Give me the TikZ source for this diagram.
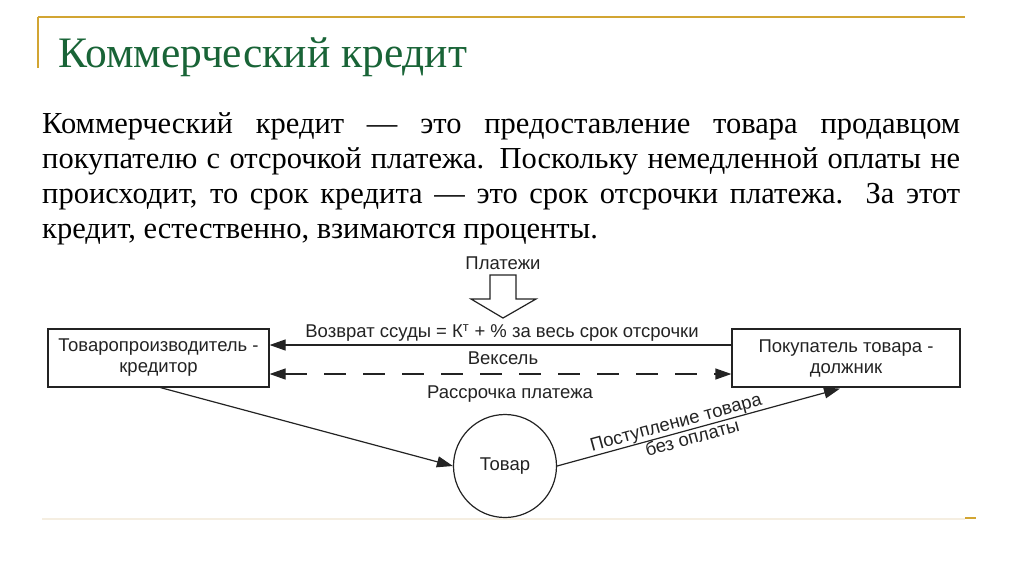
\documentclass[tikz,border=0pt]{standalone}
\usepackage{fontspec}
\setmainfont{Liberation Serif}
\newfontfamily\diagfont{Liberation Sans}
\usetikzlibrary{arrows.meta,shapes.geometric}
\definecolor{gold}{RGB}{210,165,50}
\definecolor{titlegreen}{RGB}{25,100,55}
\definecolor{faint}{RGB}{245,238,225}
\definecolor{ink}{RGB}{35,35,35}
\tikzset{
  box/.style={draw=ink, line width=1.2pt, minimum height=58pt, inner sep=2pt, align=center, font=\diagfont\fontsize{18.5}{21}\selectfont, text=ink},
  lbl/.style={font=\diagfont\fontsize{18.5}{21}\selectfont, text=ink, inner sep=1pt},
  conn/.style={draw=ink, line width=1.2pt},
  tip/.style={-{Triangle[length=16pt,width=11pt]}},
}
\begin{document}
\begin{tikzpicture}[x=1pt,y=-1pt]
\useasboundingbox (0,0) rectangle (1024,574);
% frame decoration
\draw[gold, line width=2pt] (38,17) -- (965,17);
\draw[gold, line width=1.2pt] (38,17) -- (38,68);
\draw[faint, line width=1.5pt] (42,519) -- (965,519);
\draw[gold, line width=2pt] (965,518) -- (976,518);
% title
\node[anchor=base west, inner sep=0pt, text=titlegreen, font=\fontsize{43.5}{50}\selectfont] (title) at (58,67) {Коммерческий кредит};
% body
\node[anchor=base west, inner sep=0pt, text width=918pt, align=justify, font=\fontsize{30.5}{35}\selectfont] (body) at (42,133)
{Коммерческий кредит — это предоставление товара продавцом\linebreak
покупателю с отсрочкой платежа. Поскольку немедленной оплаты не\linebreak
происходит, то срок кредита — это срок отсрочки платежа. За этот\linebreak
кредит, естественно, взимаются проценты.};
% diagram
\node[box, minimum width=221pt] (L) at (158.5,358) {Товаропроизводитель -\\кредитор};
\node[box, minimum width=228pt] (R) at (846,358) {Покупатель товара -\\должник};
\node[circle, draw=ink, line width=1.2pt, minimum size=103pt, inner sep=0pt, font=\diagfont\fontsize{18.5}{21}\selectfont, text=ink] (T) at (505,466) {Товар};
\node[lbl] (pl) at (503,263) {Платежи};
\draw[draw=ink, line width=1.2pt, fill=white] (490,275) -- (516,275) -- (516,299) -- (536,299) -- (503,318) -- (471,299) -- (490,299) -- cycle;
\node[lbl] (vz) at (502,333) {Возврат ссуды = К\textsuperscript{т} + \% за весь срок отсрочки};
\node[lbl] (vk) at (503,358) {Вексель};
\node[lbl] (rs) at (510,394) {Рассрочка платежа};
\draw[conn, tip] ([yshift=13pt]R.west) -- ([yshift=13pt]L.east);
\draw[conn, {Triangle[length=16pt,width=11pt]}-{Triangle[length=16pt,width=11pt]}, dash pattern=on 22pt off 17pt] ([yshift=-16pt]L.east) -- ([yshift=-16pt]R.west);
\draw[conn, tip] ([xshift=2pt]L.south) -- (T.west);
\draw[conn, tip] (T.east) --
  node[pos=0.43, sloped, above, lbl, inner sep=0.5pt] (pt1) {Поступление товара}
  node[pos=0.47, sloped, below, lbl, inner sep=0.5pt] (pt2) {без оплаты}
  ([xshift=-6pt,yshift=-1pt]R.south);
\end{tikzpicture}
\end{document}
